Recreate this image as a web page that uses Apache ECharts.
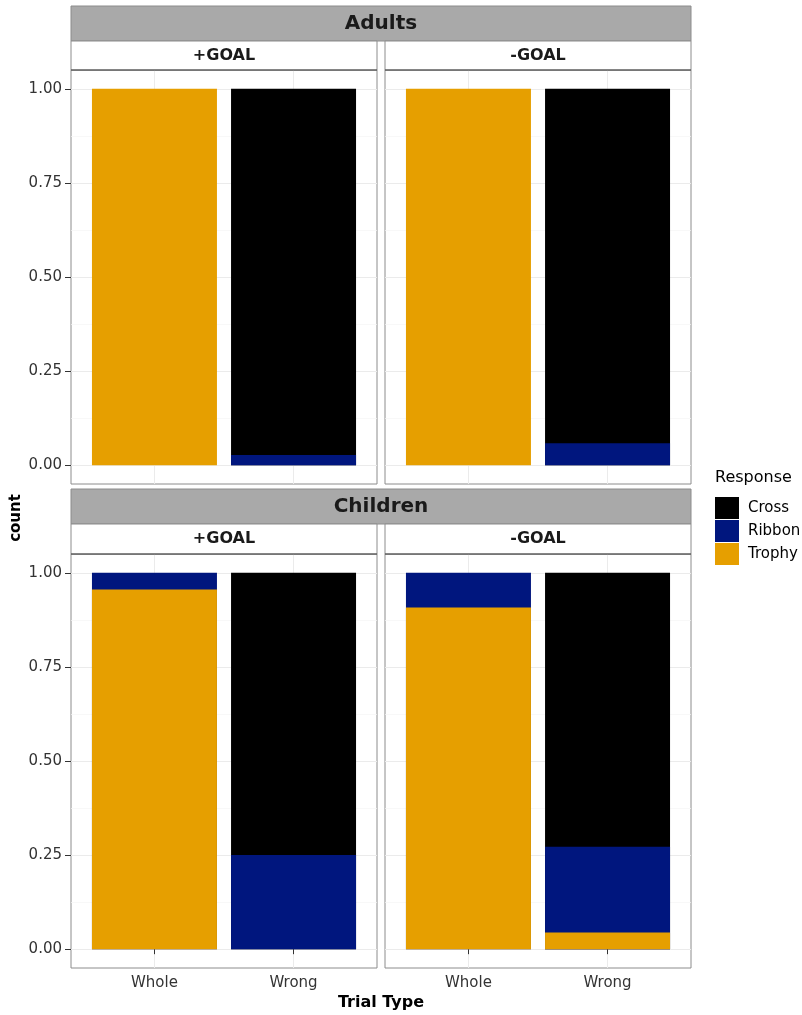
<!DOCTYPE html>
<html><head><meta charset="utf-8">
<script src="https://cdn.jsdelivr.net/npm/echarts@6/dist/echarts.min.js"></script>
<style>html,body{margin:0;padding:0;background:#fff}#c{width:802px;height:1015px}</style>
</head><body><div id="c"></div>
<script>
// ---- data ----
const categories = ['Whole', 'Wrong'];
const responses = ['Cross', 'Ribbon', 'Trophy'];
const groups = ['Adults', 'Children'];
const goals = ['+GOAL', '-GOAL'];
const yTicks = [0, 0.25, 0.5, 0.75, 1];
const yMinorTicks = [0.125, 0.375, 0.625, 0.875];

const adultsPlusTrophy  = [1.000, 0.000];
const adultsPlusRibbon  = [0.000, 0.027];
const adultsPlusCross   = [0.000, 0.973];
const adultsMinusTrophy = [1.000, 0.000];
const adultsMinusRibbon = [0.000, 0.058];
const adultsMinusCross  = [0.000, 0.942];
const childrenPlusTrophy  = [0.956, 0.000];
const childrenPlusRibbon  = [0.044, 0.250];
const childrenPlusCross   = [0.000, 0.750];
const childrenMinusTrophy = [0.908, 0.044];
const childrenMinusRibbon = [0.092, 0.228];
const childrenMinusCross  = [0.000, 0.728];

// ---- styling / layout ----
const colors = { Cross: '#000000', Ribbon: '#00167E', Trophy: '#E69F00' };
const FONT = 'DejaVu Sans';
const panels = [
  { row: 0, col: 0, Trophy: adultsPlusTrophy, Ribbon: adultsPlusRibbon, Cross: adultsPlusCross },
  { row: 0, col: 1, Trophy: adultsMinusTrophy, Ribbon: adultsMinusRibbon, Cross: adultsMinusCross },
  { row: 1, col: 0, Trophy: childrenPlusTrophy, Ribbon: childrenPlusRibbon, Cross: childrenPlusCross },
  { row: 1, col: 1, Trophy: childrenMinusTrophy, Ribbon: childrenMinusRibbon, Cross: childrenMinusCross }
];
const LEFTS = [71, 385], TOPS = [70, 554], PW = 306, PH = 414;
const STRIP_TOPS = [6, 489];
// stacking order from bottom to top
const stackOrder = ['Trophy', 'Ribbon', 'Cross'];

const grid = [], xAxis = [], yAxis = [], series = [];
panels.forEach((p, i) => {
  const bottomRow = p.row === 1, leftCol = p.col === 0;
  grid.push({ left: LEFTS[p.col], top: TOPS[p.row], width: PW, height: PH,
    show: true, borderColor: '#8c8c8c', borderWidth: 1, backgroundColor: '#fff', containLabel: false });
  xAxis.push({ gridIndex: i, type: 'value', min: 0.4, max: 2.6,
    axisLine: { show: false },
    axisTick: { show: bottomRow, customValues: [1, 2], length: 5, lineStyle: { color: '#333' } },
    axisLabel: { show: bottomRow, customValues: [1, 2], formatter: v => categories[Math.round(v) - 1] || '',
      fontFamily: FONT, fontSize: 15, color: '#333', margin: 8 },
    splitLine: { show: true, lineStyle: { color: '#ebebeb', width: 1 } } });
  yAxis.push({ gridIndex: i, type: 'value', min: -0.05, max: 1.05, position: 'left',
    axisLine: { show: false },
    axisTick: { show: leftCol, customValues: yTicks, length: 6, lineStyle: { color: '#333' } },
    axisLabel: { show: leftCol, customValues: yTicks, formatter: v => v.toFixed(2),
      fontFamily: FONT, fontSize: 15, color: '#333', margin: 9 },
    splitLine: { show: true, lineStyle: { color: '#ebebeb', width: 1 } } });
  yAxis.push({ gridIndex: i, type: 'value', min: -0.05, max: 1.05, position: 'right',
    axisLine: { show: false },
    axisTick: { show: false, customValues: yMinorTicks },
    axisLabel: { show: false, customValues: yMinorTicks },
    splitLine: { show: true, lineStyle: { color: '#f5f5f5', width: 0.7 } } });
  // cumulative tops of each segment; draw top segment first so lower ones overlay it
  const cum = {};
  categories.forEach((c, k) => {
    let acc = 0;
    stackOrder.forEach(r => { acc += p[r][k]; (cum[r] = cum[r] || [])[k] = p[r][k] > 0 ? acc : null; });
  });
  stackOrder.slice().reverse().forEach(r => {
    series.push({ type: 'bar', name: r, xAxisIndex: i, yAxisIndex: 2 * i,
      barWidth: 125, barGap: '-100%', itemStyle: { color: colors[r] }, silent: true,
      data: categories.map((c, k) => [k + 1, cum[r][k]]) });
  });
});

const graphic = [];
groups.forEach((g, r) => {
  const st = STRIP_TOPS[r];
  graphic.push({ type: 'rect', shape: { x: 71, y: st, width: 620, height: 35 },
    style: { fill: '#a9a9a9', stroke: '#8c8c8c', lineWidth: 1 }, z: 10 });
  graphic.push({ type: 'text', x: 381, y: st + 18, z: 11,
    style: { text: g, font: 'bold 20px ' + FONT, fill: '#1a1a1a', align: 'center', verticalAlign: 'middle' } });
  goals.forEach((gl, c) => {
    graphic.push({ type: 'rect', shape: { x: LEFTS[c], y: st + 35, width: PW, height: TOPS[r] - st - 35 },
      style: { fill: '#fff', stroke: '#8c8c8c', lineWidth: 1 }, z: 10 });
    graphic.push({ type: 'line', shape: { x1: LEFTS[c], y1: TOPS[r], x2: LEFTS[c] + PW, y2: TOPS[r] },
      style: { stroke: '#444', lineWidth: 1.2 }, z: 11 });
    graphic.push({ type: 'text', x: LEFTS[c] + PW / 2, y: st + 35 + (TOPS[r] - st - 35) / 2, z: 11,
      style: { text: gl, font: 'bold 16px ' + FONT, fill: '#1a1a1a', align: 'center', verticalAlign: 'middle' } });
  });
});
graphic.push({ type: 'text', x: 16, y: 518, rotation: Math.PI / 2,
  style: { text: 'count', font: 'bold 15px ' + FONT, fill: '#000', align: 'center', verticalAlign: 'middle' } });
graphic.push({ type: 'text', x: 381, y: 1003,
  style: { text: 'Trial Type', font: 'bold 16px ' + FONT, fill: '#000', align: 'center', verticalAlign: 'middle' } });
graphic.push({ type: 'text', x: 715, y: 478,
  style: { text: 'Response', font: '16px ' + FONT, fill: '#000', align: 'left', verticalAlign: 'middle' } });

const chart = echarts.init(document.getElementById('c'), null, { renderer: 'canvas' });
chart.setOption({
  animation: false,
  backgroundColor: '#fff',
  grid, xAxis, yAxis, series, graphic,
  legend: { data: responses, orient: 'vertical', left: 715, top: 497, itemWidth: 24, itemHeight: 22,
    itemGap: 1, icon: 'rect', selectedMode: false, padding: 0,
    textStyle: { fontFamily: FONT, fontSize: 15, color: '#000', padding: [0, 0, 0, 4] } }
});
</script></body></html>
